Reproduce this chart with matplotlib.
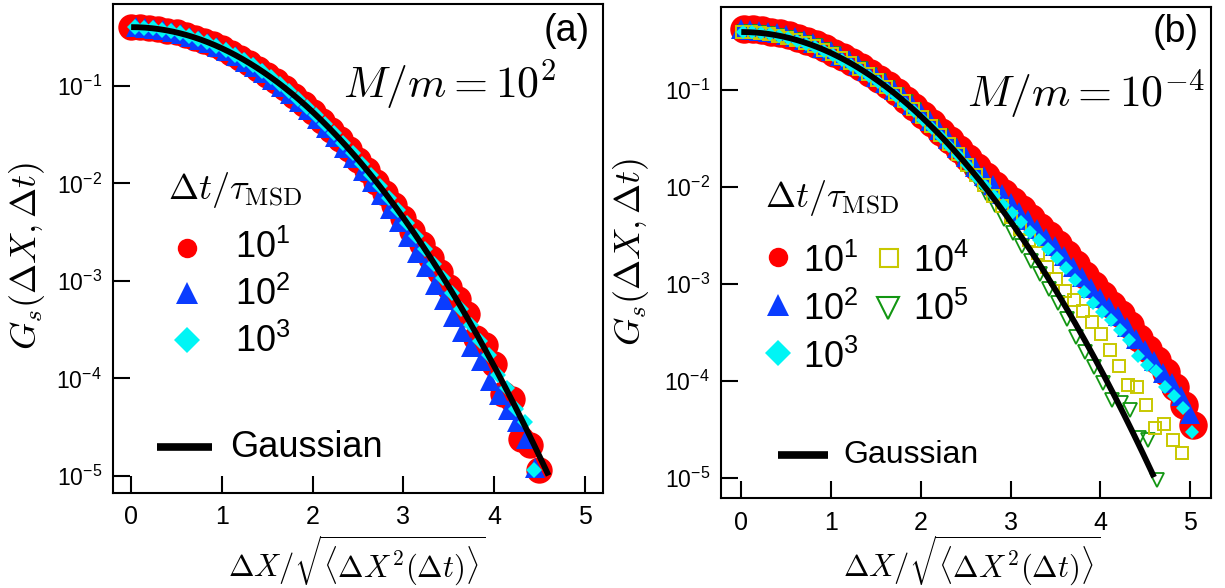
import numpy as np
import matplotlib
matplotlib.use("Agg")
import matplotlib.pyplot as plt
from matplotlib.ticker import NullLocator

plt.rcParams["mathtext.fontset"] = "cm"
plt.rcParams["font.family"] = ["Liberation Sans", "DejaVu Sans"]

# ---------------- data: panel (a), M/m = 10^2 ----------------
a_red_x = [0.0, 0.1, 0.2, 0.3, 0.4, 0.5, 0.6, 0.7, 0.8, 0.9,
           1.0, 1.1, 1.2, 1.3, 1.4, 1.5, 1.6, 1.7, 1.8, 1.9,
           2.0, 2.1, 2.2, 2.3, 2.4, 2.5, 2.6, 2.7, 2.8, 2.9,
           3.0, 3.1, 3.2, 3.3, 3.4, 3.5, 3.6, 3.7, 3.8, 3.9,
           4.0, 4.1, 4.2, 4.3, 4.4, 4.5]
a_red_y = [0.399, 0.397, 0.391, 0.381, 0.368, 0.352, 0.333, 0.312, 0.290, 0.266,
           0.242, 0.218, 0.194, 0.171, 0.150, 0.130, 0.111, 0.0940, 0.0790, 0.0656,
           0.0540, 0.0440, 0.0355, 0.0283, 0.0224, 0.0175, 0.0136, 0.0104, 0.00792, 0.00595,
           0.00443, 0.00327, 0.00238, 0.00172, 0.00123, 8.7e-4, 6.5e-4, 4.6e-4, 2.6e-4, 2.2e-4,
           1.4e-4, 7.0e-5, 6.2e-5, 2.4e-5, 2.1e-5, 1.15e-5]

a_blue_x = [0.05, 0.15, 0.25, 0.35, 0.45, 0.55, 0.65, 0.75, 0.85, 0.95,
            1.05, 1.15, 1.25, 1.35, 1.45, 1.55, 1.65, 1.75, 1.85, 1.95,
            2.05, 2.15, 2.25, 2.35, 2.45, 2.55, 2.65, 2.75, 2.85, 2.95,
            3.05, 3.15, 3.25, 3.35, 3.45, 3.55, 3.65, 3.75, 3.85, 3.95,
            4.05, 4.15, 4.25, 4.35, 4.45]
a_blue_y = [0.398, 0.393, 0.385, 0.373, 0.358, 0.340, 0.319, 0.297, 0.273, 0.249,
            0.225, 0.200, 0.177, 0.155, 0.134, 0.115, 0.0975, 0.0820, 0.0683, 0.0563,
            0.0458, 0.0370, 0.0295, 0.0232, 0.0181, 0.0135, 0.0102, 0.00759, 0.00550, 0.00398,
            0.00282, 0.00195, 0.00138, 9.12e-4, 6.31e-4, 4.27e-4, 3.02e-4, 2.09e-4, 1.51e-4, 9.5e-5,
            6.8e-5, 4.8e-5, 3.55e-5, 2.4e-5, 1.2e-5]

a_cyan_x = [0.04, 0.14, 0.24, 0.34, 0.44, 0.54, 0.64, 0.74, 0.84, 0.94,
            1.04, 1.14, 1.24, 1.34, 1.44, 1.54, 1.64, 1.74, 1.84, 1.94,
            2.04, 2.14, 2.24, 2.34, 2.44, 2.54, 2.64, 2.74, 2.84, 2.94,
            3.04, 3.14, 3.24, 3.34, 3.44, 3.54, 3.64, 3.74, 3.84, 3.94,
            4.04, 4.14, 4.24, 4.34, 4.44]
a_cyan_y = [0.399, 0.395, 0.388, 0.376, 0.362, 0.345, 0.325, 0.303, 0.280, 0.256,
            0.232, 0.208, 0.185, 0.162, 0.141, 0.122, 0.104, 0.0878, 0.0734, 0.0608,
            0.0498, 0.0404, 0.0325, 0.0258, 0.0203, 0.0158, 0.0123, 0.00937, 0.00709, 0.00530,
            0.00393, 0.00288, 0.00210, 0.00150, 0.00106, 7.45e-4, 5.10e-4, 3.55e-4, 2.40e-4, 1.72e-4,
            1.08e-4, 7.9e-5, 4.9e-5, 3.6e-5, 1.15e-5]

# ---------------- data: panel (b), M/m = 10^-4 ----------------
b_red_x = [0.03, 0.13, 0.23, 0.33, 0.43, 0.53, 0.63, 0.73, 0.83, 0.93,
           1.03, 1.13, 1.23, 1.33, 1.43, 1.53, 1.63, 1.73, 1.83, 1.93,
           2.03, 2.13, 2.23, 2.33, 2.43, 2.53, 2.63, 2.73, 2.83, 2.93,
           3.03, 3.13, 3.23, 3.33, 3.43, 3.53, 3.63, 3.73, 3.83, 3.93,
           4.03, 4.13, 4.23, 4.33, 4.43, 4.53, 4.63, 4.73, 4.83, 4.93,
           5.03]
b_red_y = [0.430, 0.425, 0.415, 0.402, 0.390, 0.371, 0.350, 0.326, 0.300, 0.274,
           0.245, 0.222, 0.197, 0.174, 0.152, 0.131, 0.113, 0.0955, 0.0800, 0.0667,
           0.0552, 0.0454, 0.0372, 0.0303, 0.0246, 0.0199, 0.0160, 0.0130, 0.0105, 0.00860,
           0.00720, 0.00590, 0.00480, 0.00392, 0.00318, 0.00258, 0.00205, 0.00160, 0.00124, 9.66e-4,
           7.70e-4, 6.10e-4, 4.85e-4, 3.75e-4, 2.80e-4, 2.12e-4, 1.66e-4, 1.23e-4, 8.7e-5, 5.6e-5,
           3.5e-5]

b_blue_x = [0.0, 0.1, 0.2, 0.3, 0.4, 0.5, 0.6, 0.7, 0.8, 0.9,
            1.0, 1.1, 1.2, 1.3, 1.4, 1.5, 1.6, 1.7, 1.8, 1.9,
            2.0, 2.1, 2.2, 2.3, 2.4, 2.5, 2.6, 2.7, 2.8, 2.9,
            3.0, 3.1, 3.2, 3.3, 3.4, 3.5, 3.6, 3.7, 3.8, 3.9,
            4.0, 4.1, 4.2, 4.3, 4.4, 4.5, 4.6, 4.7, 4.8, 4.9,
            5.0]
b_blue_y = [0.425, 0.421, 0.413, 0.401, 0.390, 0.373, 0.353, 0.330, 0.305, 0.276,
            0.252, 0.228, 0.203, 0.180, 0.158, 0.137, 0.118, 0.101, 0.0848, 0.0705,
            0.0583, 0.0478, 0.0390, 0.0316, 0.0254, 0.0204, 0.0163, 0.0130, 0.0104, 0.00840,
            0.00680, 0.00556, 0.00455, 0.00370, 0.00300, 0.00244, 0.00194, 0.00150, 0.00117, 9.05e-4,
            7.20e-4, 5.85e-4, 4.65e-4, 3.61e-4, 2.68e-4, 2.08e-4, 1.61e-4, 1.22e-4, 9.4e-5, 6.9e-5,
            4.5e-5]

b_cyan_x = [0.02, 0.12, 0.22, 0.32, 0.42, 0.52, 0.62, 0.72, 0.82, 0.92,
            1.02, 1.12, 1.22, 1.32, 1.42, 1.52, 1.62, 1.72, 1.82, 1.92,
            2.02, 2.12, 2.22, 2.32, 2.42, 2.52, 2.62, 2.72, 2.82, 2.92,
            3.02, 3.12, 3.22, 3.32, 3.42, 3.52, 3.62, 3.72, 3.82, 3.92,
            4.02, 4.12, 4.22, 4.32, 4.42, 4.52, 4.62, 4.72, 4.82, 4.92,
            5.02]
b_cyan_y = [0.400, 0.397, 0.389, 0.377, 0.362, 0.344, 0.324, 0.302, 0.279, 0.254,
            0.230, 0.206, 0.183, 0.161, 0.140, 0.121, 0.103, 0.0870, 0.0728, 0.0604,
            0.0497, 0.0405, 0.0328, 0.0264, 0.0212, 0.0170, 0.0126, 0.0102, 0.00813, 0.00661,
            0.00537, 0.00437, 0.00347, 0.00282, 0.00229, 0.00186, 0.00145, 0.00110, 8.32e-4, 6.31e-4,
            5.13e-4, 4.27e-4, 3.39e-4, 2.63e-4, 1.82e-4, 1.45e-4, 1.26e-4, 8.7e-5, 6.9e-5, 5.2e-5,
            2.95e-5]

b_yellow_x = [0.01, 0.11, 0.21, 0.31, 0.41, 0.51, 0.61, 0.71, 0.81, 0.91,
              1.01, 1.11, 1.21, 1.31, 1.41, 1.51, 1.61, 1.71, 1.81, 1.91,
              2.01, 2.11, 2.21, 2.31, 2.41, 2.51, 2.61, 2.71, 2.81, 2.91,
              3.01, 3.11, 3.21, 3.31, 3.41, 3.51, 3.61, 3.71, 3.81, 3.91,
              4.01, 4.11, 4.21, 4.31, 4.41, 4.51, 4.61, 4.71, 4.81, 4.91]
b_yellow_y = [0.398, 0.396, 0.390, 0.379, 0.365, 0.348, 0.329, 0.308, 0.285, 0.261,
              0.237, 0.213, 0.189, 0.167, 0.146, 0.126, 0.108, 0.0915, 0.0768, 0.0638,
              0.0524, 0.0427, 0.0345, 0.0276, 0.0219, 0.0170, 0.0132, 0.0105, 0.00813, 0.00631,
              0.00490, 0.00372, 0.00282, 0.00209, 0.00151, 0.00112, 8.51e-4, 6.76e-4, 5.25e-4, 4.07e-4,
              3.02e-4, 2.09e-4, 1.41e-4, 9.1e-5, 8.7e-5, 5.6e-5, 3.3e-5, 3.55e-5, 2.45e-5, 1.82e-5]

b_green_x = [0.03, 0.13, 0.23, 0.33, 0.43, 0.53, 0.63, 0.73, 0.83, 0.93,
             1.03, 1.13, 1.23, 1.33, 1.43, 1.53, 1.63, 1.73, 1.83, 1.93,
             2.03, 2.13, 2.23, 2.33, 2.43, 2.53, 2.63, 2.73, 2.83, 2.93,
             3.03, 3.13, 3.23, 3.33, 3.43, 3.53, 3.63, 3.73, 3.83, 3.93,
             4.03, 4.13, 4.23, 4.33, 4.43, 4.53, 4.63]
b_green_y = [0.399, 0.396, 0.389, 0.378, 0.364, 0.347, 0.327, 0.306, 0.283, 0.259,
             0.234, 0.211, 0.187, 0.165, 0.144, 0.124, 0.106, 0.0893, 0.0747, 0.0620,
             0.0509, 0.0413, 0.0333, 0.0263, 0.0206, 0.0155, 0.0117, 0.00871, 0.00646, 0.00468,
             0.00339, 0.00245, 0.00174, 0.00126, 8.91e-4, 6.31e-4, 4.37e-4, 2.82e-4, 2.00e-4, 1.38e-4,
             9.5e-5, 6.3e-5, 5.9e-5, 5.0e-5, 2.6e-5, 2.45e-5, 9.5e-6]

# Gaussian reference curve (unit variance), drawn up to this abscissa
gauss_xmax = 4.6

x_ticks = [0, 1, 2, 3, 4, 5]
y_ticks = [1e-5, 1e-4, 1e-3, 1e-2, 1e-1]
y_tick_labels = [r"$\mathregular{10^{-5}}$", r"$\mathregular{10^{-4}}$",
                 r"$\mathregular{10^{-3}}$", r"$\mathregular{10^{-2}}$",
                 r"$\mathregular{10^{-1}}$"]
legend_labels = [r"$\mathregular{10^{1}}$", r"$\mathregular{10^{2}}$",
                 r"$\mathregular{10^{3}}$", r"$\mathregular{10^{4}}$",
                 r"$\mathregular{10^{5}}$"]

# ---------------- styles ----------------
RED = "#ff0000"
BLUE = "#0a3cff"
CYAN = "#00f5f5"
YELLOW = "#c8c800"
GREEN = "#129612"

W, H = 1225, 588
fig = plt.figure(figsize=(W / 100, H / 100), dpi=100)


def px_rect(l, t, r, b):
    return [l / W, 1 - b / H, (r - l) / W, (b - t) / H]


def fx(px):
    return px / W


def fy(py):
    return 1 - py / H


ax_a = fig.add_axes(px_rect(113, 4, 603, 493))
ax_b = fig.add_axes(px_rect(721, 7, 1211, 498))

gx = np.linspace(0.0, gauss_xmax, 300)
gy = np.exp(-gx ** 2 / 2) / np.sqrt(2 * np.pi)


def style_axes(ax, xlim, ylim):
    ax.set_yscale("log")
    ax.set_xlim(*xlim)
    ax.set_ylim(*ylim)
    ax.set_xticks(x_ticks)
    ax.set_xticklabels([str(t) for t in x_ticks])
    ax.set_yticks(y_ticks)
    ax.set_yticklabels(y_tick_labels)
    ax.yaxis.set_minor_locator(NullLocator())
    ax.xaxis.set_minor_locator(NullLocator())
    ax.tick_params(axis="both", direction="in", length=12, width=1.5,
                   top=False, right=False, colors="black")
    ax.tick_params(axis="x", labelsize=18, pad=9)
    ax.tick_params(axis="y", labelsize=16.5, pad=8)
    for s in ax.spines.values():
        s.set_linewidth(1.5)


def legend_marker(px, py, **kw):
    fig.lines.append(plt.Line2D([fx(px)], [fy(py)], transform=fig.transFigure,
                                linestyle="none", **kw))


XLABEL = r"$\Delta X/\sqrt{\langle \Delta X^2(\Delta t)\rangle}$"
YLABEL = r"$G_s(\Delta X,\Delta t)$"
LEG_TITLE = r"$\Delta t/\tau_{\rm MSD}$"

# ---------------- panel (a) ----------------
ax = ax_a
ax.plot(a_red_x, a_red_y, "o", color=RED, ms=19, mew=0, zorder=2)
ax.plot(a_blue_x, a_blue_y, "^", color=BLUE, ms=14, mew=0, zorder=3)
ax.plot(a_cyan_x, a_cyan_y, "D", color=CYAN, ms=8, mew=0, zorder=4)
ax.plot(gx, gy, "-", color="black", lw=4.2, zorder=7, solid_capstyle="butt")
style_axes(ax, (-0.2, 5.2), (10 ** -5.174, 10 ** -0.162))
ax.set_xlabel(XLABEL, fontsize=22, va="center")
ax.xaxis.set_label_coords((357 - 113) / 490, (493 - 561) / 489)
ax.set_ylabel(YLABEL, fontsize=26, va="center")
ax.yaxis.set_label_coords((27 - 113) / 490, (493 - 256) / 489)

fig.text(fx(567), fy(31), "(a)", fontsize=27, ha="center", va="center")
fig.text(fx(343), fy(98), r"$M/m = 10^2$", fontsize=31.5, ha="left", va="baseline")
fig.text(fx(168), fy(190), LEG_TITLE, fontsize=26, ha="left", va="center")
legend_marker(187, 248, marker="o", color=RED, ms=14, mew=0)
legend_marker(187, 293, marker="^", color=BLUE, ms=16, mew=0)
legend_marker(187, 340, marker="D", color=CYAN, ms=13, mew=0)
for lab, base in zip(legend_labels[:3], (258, 305, 352)):
    fig.text(fx(235), fy(base), lab, fontsize=26, ha="left", va="baseline")
fig.lines.append(plt.Line2D([fx(157), fx(212)], [fy(447), fy(447)],
                            transform=fig.transFigure, color="black", lw=5.5,
                            solid_capstyle="butt"))
fig.text(fx(230), fy(457), "Gaussian", fontsize=26, ha="left", va="baseline")

# ---------------- panel (b) ----------------
ax = ax_b
ax.plot(b_red_x, b_red_y, "o", color=RED, ms=20.5, mew=0, zorder=2)
ax.plot(b_green_x, b_green_y, "v", mfc="none", mec=GREEN, ms=10.5, mew=1.3, zorder=2.5)
ax.plot(b_blue_x, b_blue_y, "^", color=BLUE, ms=14.5, mew=0, zorder=3)
ax.plot(b_yellow_x, b_yellow_y, "s", mfc="none", mec=YELLOW, ms=9, mew=1.4, zorder=4)
ax.plot(b_cyan_x, b_cyan_y, "D", color=CYAN, ms=7, mew=0, zorder=5)
ax.plot(gx, gy, "-", color="black", lw=4.2, zorder=7, solid_capstyle="butt")
style_axes(ax, (-0.226, 5.234), (10 ** -5.209, 10 ** -0.141))
ax.set_xlabel(XLABEL, fontsize=22, va="center")
ax.xaxis.set_label_coords((972 - 721) / 490, (498 - 561) / 491)
ax.set_ylabel(YLABEL, fontsize=26, va="center")
ax.yaxis.set_label_coords((631 - 721) / 490, (498 - 252) / 491)

fig.text(fx(1176), fy(32), "(b)", fontsize=27, ha="center", va="center")
fig.text(fx(967), fy(107), r"$M/m = 10^{-4}$", fontsize=31.5, ha="left", va="baseline")
fig.text(fx(765), fy(198), LEG_TITLE, fontsize=26, ha="left", va="center")
legend_marker(778, 257, marker="o", color=RED, ms=14, mew=0)
legend_marker(778, 305, marker="^", color=BLUE, ms=16, mew=0)
legend_marker(778, 353, marker="D", color=CYAN, ms=13, mew=0)
legend_marker(889, 258, marker="s", mfc="none", mec=YELLOW, ms=13, mew=1.5)
legend_marker(888, 308, marker="v", mfc="none", mec=GREEN, ms=16, mew=1.5)
for lab, (xx, base) in zip(legend_labels,
                           ((803, 272), (803, 320), (803, 368), (913, 272), (913, 320))):
    fig.text(fx(xx), fy(base), lab, fontsize=26, ha="left", va="baseline")
fig.lines.append(plt.Line2D([fx(778), fx(828)], [fy(455), fy(455)],
                            transform=fig.transFigure, color="black", lw=5.5,
                            solid_capstyle="butt"))
fig.text(fx(843), fy(463), "Gaussian", fontsize=23, ha="left", va="baseline")

fig.savefig("out.png", dpi=100)
